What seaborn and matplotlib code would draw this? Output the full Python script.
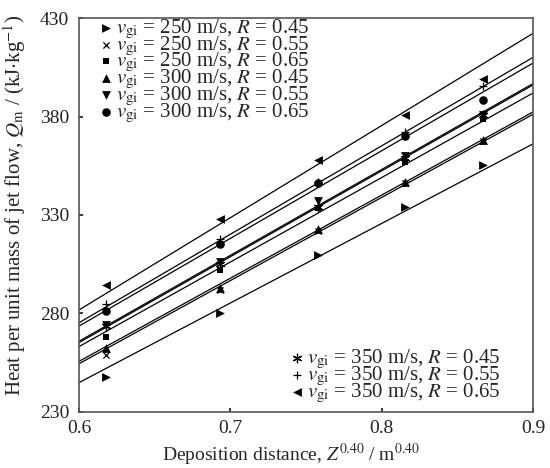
import numpy as np
import pandas as pd
import matplotlib
matplotlib.use('Agg')
import matplotlib.pyplot as plt
import seaborn as sns

# deposition distance Z^0.40 for Z = 0.3 ... 0.7 m
z_pow = [0.6178, 0.6931, 0.7579, 0.8152, 0.8670]

# heat per unit mass of jet flow, kJ/kg
q_250_045 = [248.0, 280.0, 309.5, 334.0, 355.5]
q_250_055 = [259.0, 292.0, 322.0, 346.0, 367.5]
q_250_065 = [268.0, 302.0, 333.5, 357.0, 378.5]
q_300_045 = [262.5, 293.0, 323.0, 347.0, 368.0]
q_300_055 = [274.0, 306.0, 337.0, 360.0, 381.0]
q_300_065 = [281.5, 315.5, 346.0, 370.0, 388.5]
q_350_045 = [273.5, 305.0, 334.0, 359.0, 381.0]
q_350_055 = [285.0, 318.0, 347.0, 372.0, 395.5]
q_350_065 = [294.5, 328.0, 358.0, 381.0, 399.0]

speeds = [250, 250, 250, 300, 300, 300, 350, 350, 350]
ratios = [0.45, 0.55, 0.65, 0.45, 0.55, 0.65, 0.45, 0.55, 0.65]
series = [q_250_045, q_250_055, q_250_065, q_300_045, q_300_055,
          q_300_065, q_350_045, q_350_055, q_350_065]

# linear fit Q = a*Z^0.4 + b for each case
fit_slope = [404, 422, 429, 422, 436, 445, 436, 449, 468]
fit_icpt = [2.5, 1.3, 5.8, 2.5, 3.6, 6.6, 4.3, 5.9, 1.0]

markers = ['>', 'x', 's', '^', 'v', 'o', (6, 2, 0), '+', '<']
sizes = [40, 20, 22, 40, 40, 38, 38, 38, 40]

sns.set_theme(style='ticks')
plt.rcParams['font.family'] = ['Liberation Serif', 'DejaVu Serif']
plt.rcParams['mathtext.fontset'] = 'stix'

fig, ax = plt.subplots(figsize=(5.5, 4.68), dpi=100)
fig.subplots_adjust(left=0.1436, right=0.969, top=0.9615, bottom=0.1197)

for i in range(len(series)):
    df = pd.DataFrame({'z': z_pow, 'q': series[i]})
    lab = r'$v_{\rm gi}$ = %d m/s, $R$ = %.2f' % (speeds[i], ratios[i])
    line_art = markers[i] in ['x', '+'] or isinstance(markers[i], tuple)
    sns.scatterplot(data=df, x='z', y='q', marker=markers[i], s=sizes[i],
                    color='black', edgecolor='black',
                    linewidth=0.9 if line_art else 0, label=lab, ax=ax, zorder=3)
    ax.axline((0, fit_icpt[i]), slope=fit_slope[i], color='black', lw=0.9, zorder=2)

ax.set_xlim(0.6, 0.9)
ax.set_ylim(230, 430)
ax.set_xticks([0.6, 0.7, 0.8, 0.9])
ax.set_yticks([230, 280, 330, 380, 430])
ax.tick_params(direction='in', length=3, labelsize=14, colors='#222222')
ax.tick_params(axis='x', pad=6)
ax.tick_params(axis='y', pad=7)
for sp in ax.spines.values():
    sp.set_color('#555555')
    sp.set_linewidth(1.2)

ax.set_xlabel(r'Deposition distance, $Z^{0.40}$ / m$^{0.40}$', fontsize=14)
ax.set_ylabel(r'Heat per unit mass of jet flow, $Q_{\rm m}$ / (kJ$\cdot$kg$^{-1}$)',
              fontsize=15)
ax.xaxis.set_label_coords(0.467, -0.077)
ax.yaxis.set_label_coords(-0.112, 0.523)

handles, labels = ax.get_legend_handles_labels()
leg_kw = dict(frameon=False, fontsize=15, handlelength=0.25, handletextpad=0.35,
              labelspacing=-0.31, borderpad=0.0)
leg1 = ax.legend(handles[:6], labels[:6], loc='upper left',
                 bbox_to_anchor=(0.031, 1.027), **leg_kw)
ax.add_artist(leg1)
ax.legend(handles[6:], labels[6:], loc='lower right',
          bbox_to_anchor=(0.952, -0.008), **leg_kw)

fig.savefig('out.png', dpi=100)
